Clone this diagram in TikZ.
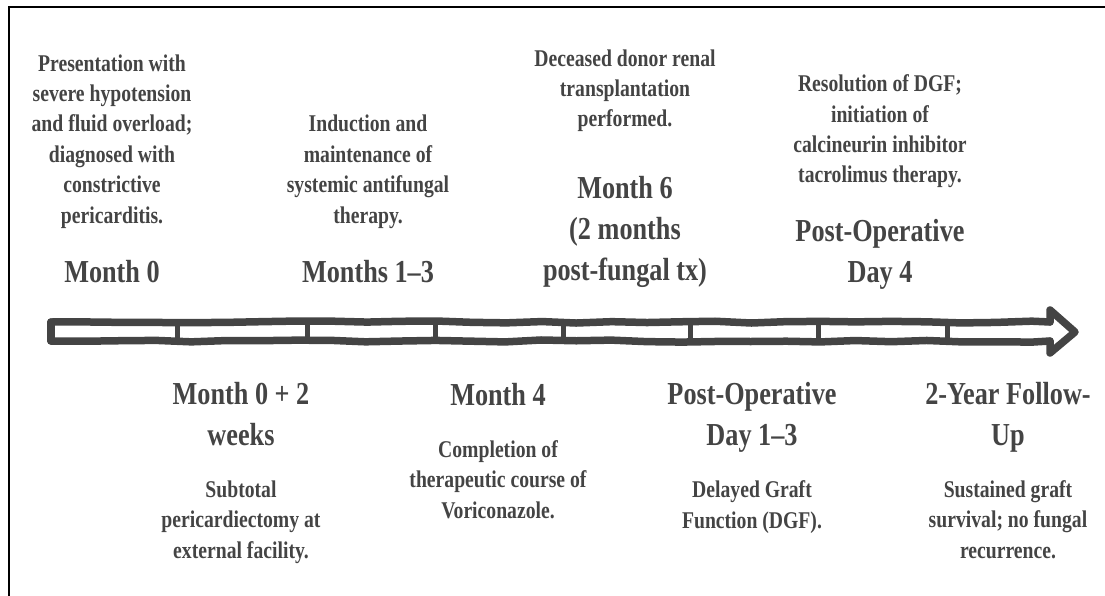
\documentclass[tikz,border=0pt]{standalone}
\usepackage{fontspec}
\setmainfont{Liberation Serif}[FakeStretch=0.82]
\usepackage{xcolor}
\usepackage{tikz}
\usetikzlibrary{decorations.pathmorphing, positioning}
\definecolor{ink}{HTML}{444444}

\begin{document}
\begin{tikzpicture}[x=1pt,y=1pt,
  headtxt/.style={font=\fontsize{32}{41}\selectfont\bfseries, text=ink, align=center, inner sep=0pt, anchor=base},
  desctxt/.style={font=\fontsize{24}{30.4}\selectfont\bfseries, text=ink, align=center, inner sep=0pt, anchor=base},
  bar/.style={draw=ink, line width=7.5pt, line cap=round, line join=round},
  rough/.style={decorate, decoration={random steps, segment length=35pt, amplitude=1.2pt}}]
\pgfmathsetseed{11}
\useasboundingbox (0,0) rectangle (1105,-596);
\draw[line width=1.5pt] (1105,-7) -- (9,-7) -- (9,-596);

% timeline bar
\draw[bar, rough] (51,-322) -- (1050,-322);
\draw[bar, rough] (51,-341) -- (1050,-341);
\draw[bar] (51,-322) -- (51,-341);
\draw[bar] (1050,-322) -- (1050,-310) -- (1075,-332) -- (1050,-353) -- (1050,-341);
\foreach \x in {177,307,435,563,690,818,947}
  \draw[bar, line width=5pt] (\x,-322) -- (\x,-341);

% events above the bar (base = last line)
\node[desctxt] (month0txt) at (112,-223) {Presentation with\\severe hypotension\\and fluid overload;\\diagnosed with\\constrictive\\pericarditis.};
\node[headtxt] (month0) at (112,-282) {Month 0};
\node[desctxt] (months13txt) at (368,-223) {Induction and\\maintenance of\\systemic antifungal\\therapy.};
\node[headtxt] (months13) at (368,-282) {Months 1–3};
\node[desctxt] (month6txt) at (625,-127) {Deceased donor renal\\transplantation\\performed.};
\node[headtxt] (month6) at (625,-280) {Month 6\\(2 months\\post-fungal tx)};
\node[desctxt] (pod4txt) at (880,-183) {Resolution of DGF;\\initiation of\\calcineurin inhibitor\\tacrolimus therapy.};
\node[headtxt] (pod4) at (880,-282) {Post-Operative\\Day 4};

% events below the bar
\node[headtxt] (month0w) at (241,-445) {Month 0 + 2\\weeks};
\node[desctxt] (month0wtxt) at (241,-558) {Subtotal\\pericardiectomy at\\external facility.};
\node[headtxt] (month4) at (498,-405) {Month 4};
\node[desctxt] (month4txt) at (498,-518) {Completion of\\therapeutic course of\\Voriconazole.};
\node[headtxt] (pod13) at (752,-445) {Post-Operative\\Day 1–3};
\node[desctxt] (pod13txt) at (752,-528) {Delayed Graft\\Function (DGF).};
\node[headtxt] (year2) at (1008,-445) {2-Year Follow-\\Up};
\node[desctxt] (year2txt) at (1008,-558) {Sustained graft\\survival; no fungal\\recurrence.};
\end{tikzpicture}
\end{document}
